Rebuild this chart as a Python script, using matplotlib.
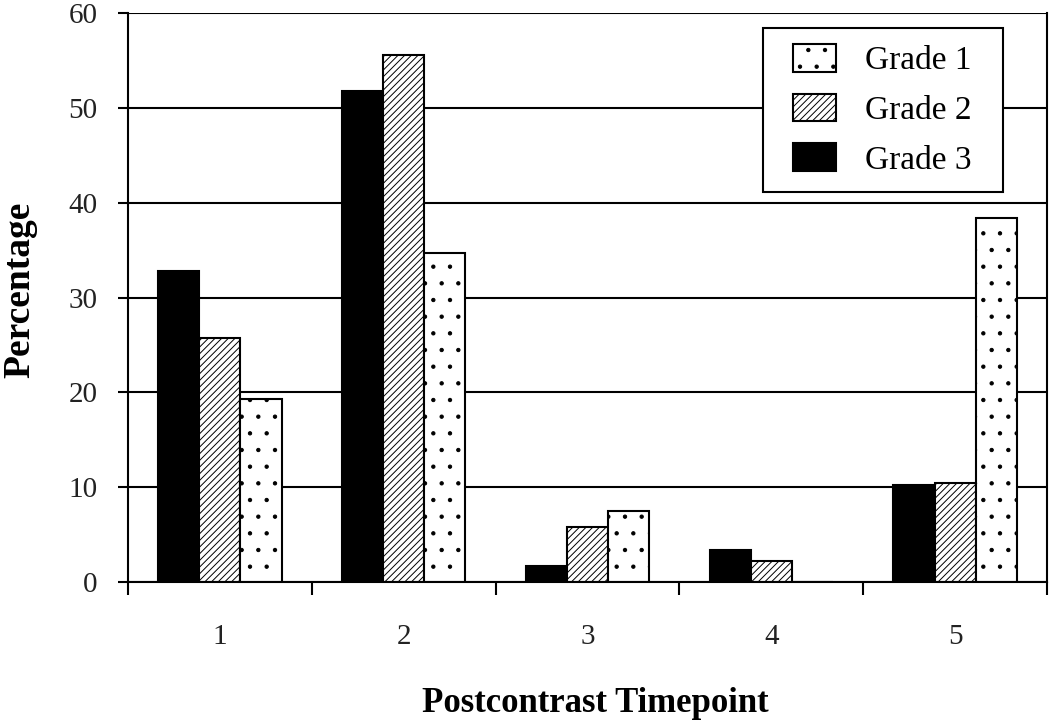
"""
Postcontrast timepoint bar chart by grade
"""

import matplotlib
matplotlib.use("Agg")
import matplotlib.pyplot as plt
from matplotlib.patches import Rectangle
import numpy as np

# data
timepoints = ["1", "2", "3", "4", "5"]
grade1 = [19.3, 34.7, 7.5, 0.0, 38.4]
grade2 = [25.7, 55.6, 5.8, 2.2, 10.4]
grade3 = [32.8, 51.8, 1.7, 3.4, 10.2]
yticks = [0, 10, 20, 30, 40, 50, 60]

plt.rcParams['font.family'] = ['Liberation Serif', 'DejaVu Serif']
plt.rcParams['hatch.linewidth'] = 0.7
plt.rcParams['hatch.color'] = 'black'

W, H = 1050, 721
fig = plt.figure(figsize=(W / 100, H / 100), dpi=100)
ax = fig.add_axes([128 / W, 1 - 582 / H, 919 / W, 569 / H])

x = np.arange(1, len(timepoints) + 1)
w = 0.224

# horizontal grid lines
ax.set_axisbelow(True)
ax.yaxis.grid(True, color='black', linewidth=1.5)

b3 = ax.bar(x - w, grade3, w, color='black', edgecolor='black', linewidth=1.5, label='Grade 3')
b2 = ax.bar(x, grade2, w, color='white', edgecolor='black', linewidth=1.5, hatch='/////', label='Grade 2')
b1 = ax.bar(x + w, grade1, w, color='white', edgecolor='black', linewidth=1.5, hatch='.', label='Grade 1')

ax.set_xlim(0.5, 5.5)
ax.set_ylim(0, 60)

# category boundaries as major ticks, labels on minor ticks
ax.set_xticks(np.arange(0.5, 6.0, 1.0))
ax.set_xticklabels([])
ax.set_xticks(x, minor=True)
ax.set_xticklabels(timepoints, minor=True, fontsize=21, color='#222222')
ax.tick_params(axis='x', which='major', direction='out', length=9.5, width=1.5)
ax.tick_params(axis='x', which='minor', length=0, pad=30)

ax.set_yticks(yticks)
ax.set_yticklabels([str(v) for v in yticks], fontsize=21, color='#222222')
ax.tick_params(axis='y', direction='out', length=7, width=1.5, pad=15)

for side in ['left', 'bottom', 'right']:
    ax.spines[side].set_linewidth(1.5)
ax.spines['top'].set_visible(False)

ax.set_xlabel('Postcontrast Timepoint', fontsize=25, fontweight='bold')
ax.set_ylabel('Percentage', fontsize=27, fontweight='bold')
ax.xaxis.set_label_coords(0.508, -0.184)
ax.yaxis.set_label_coords(-0.099, 0.513)

# legend box drawn separately so its padding matches the original
frame = Rectangle((763 / W, 1 - 192 / H), 240 / W, 164 / H,
                  transform=fig.transFigure, facecolor='white',
                  edgecolor='black', linewidth=1.5, zorder=5, clip_on=False)
ax.add_patch(frame)

leg = ax.legend(handles=[b1, b2, b3], loc='upper left',
                bbox_to_anchor=(793 / W, 1 - 44 / H),
                bbox_transform=fig.transFigure, frameon=False,
                fontsize=24, handlelength=1.3, handleheight=0.9,
                handletextpad=0.85, labelspacing=0.52,
                borderpad=0, borderaxespad=0)
leg.set_zorder(6)

fig.savefig('out.png', dpi=100)
